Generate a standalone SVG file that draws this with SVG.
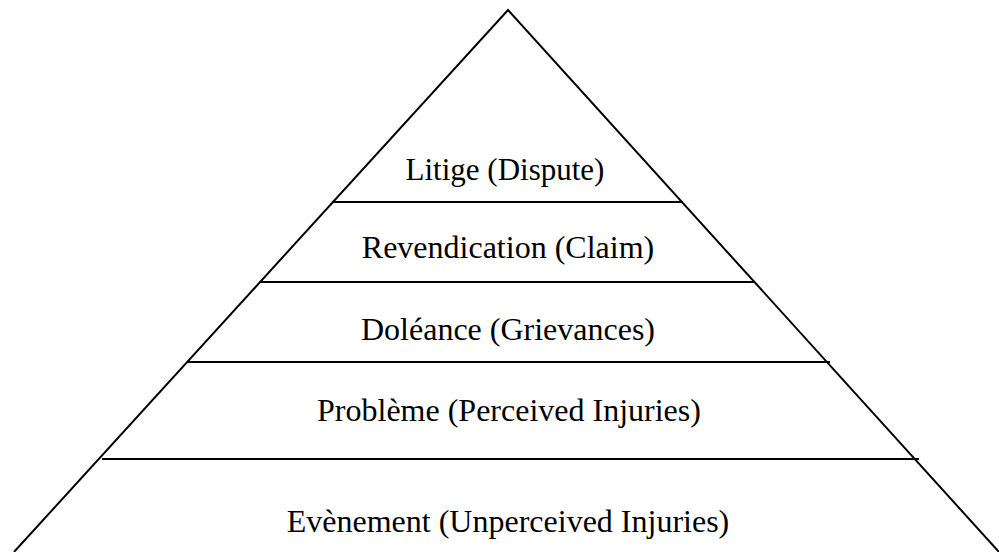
<svg xmlns="http://www.w3.org/2000/svg" width="999" height="552" viewBox="0 0 999 552">
<style>
.l{stroke:#000;stroke-width:2;fill:none}
text{font-family:"Liberation Serif","Times New Roman",serif;font-size:32px;fill:#000;text-anchor:middle}
</style>
<rect width="999" height="552" fill="#fff"/>
<g id="connectors">
<polyline class="l" points="14,552 508,10 999,552"/>
<line class="l" x1="332" y1="202" x2="683" y2="202"/>
<line class="l" x1="259" y1="282" x2="755" y2="282"/>
<line class="l" x1="187" y1="362" x2="830" y2="362"/>
<line class="l" x1="102" y1="459" x2="919" y2="459"/>
</g>
<g id="n1"><text x="505" y="180" style="font-size:31px">Litige (Dispute)</text></g>
<g id="n2"><text x="508" y="258">Revendication (Claim)</text></g>
<g id="n3"><text x="508" y="340">Doléance (Grievances)</text></g>
<g id="n4"><text x="509" y="421">Problème (Perceived Injuries)</text></g>
<g id="n5"><text x="508" y="532">Evènement (Unperceived Injuries)</text></g>
</svg>
